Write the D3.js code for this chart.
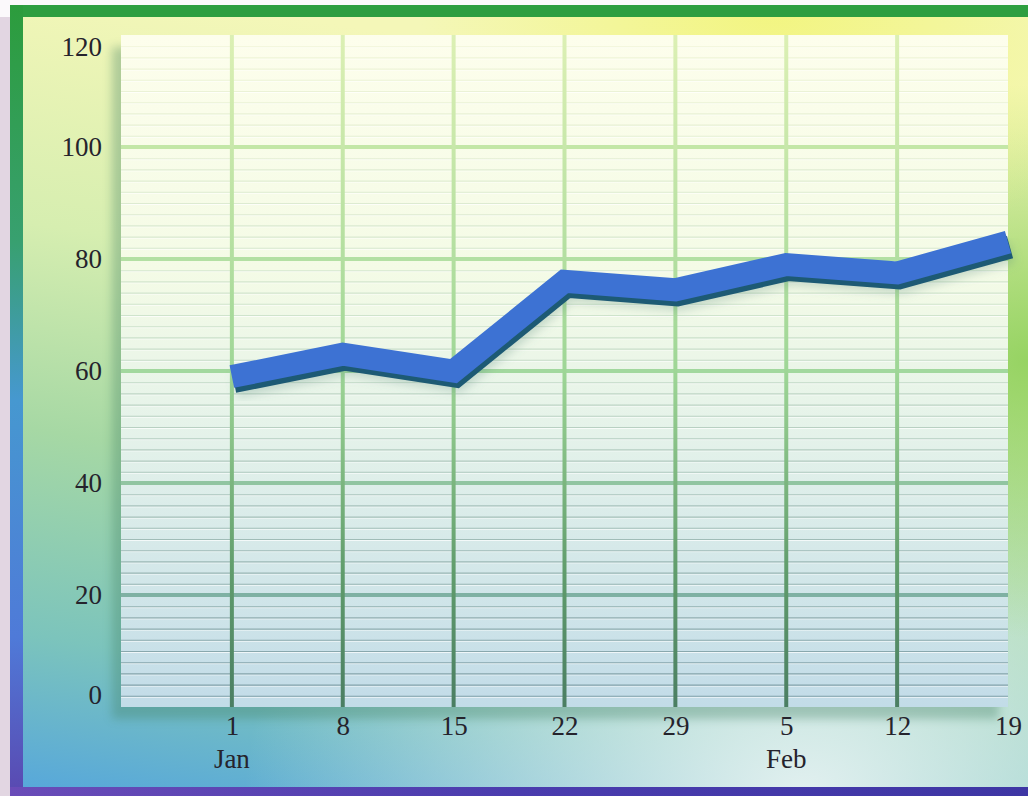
<!DOCTYPE html>
<html>
<head>
<meta charset="utf-8">
<script src="https://cdn.jsdelivr.net/npm/d3@7"></script>
<style>
    body { margin: 0; background: #ffffff; }
    svg { display: block; }
    .tick text { font-family: "Liberation Serif", "DejaVu Serif", serif; fill: #25232c; }
</style>
</head>
<body>
<div id="chart_div"></div>
<script>
// values
let dayLabels = ["1", "8", "15", "22", "29", "5", "12", "19"];
let monthLabels = ["Jan", "", "", "", "", "Feb", "", ""];
let weekValues = [59, 63, 60, 76, 74.5, 79, 77.5, 83];
let yTicks = [0, 20, 40, 60, 80, 100, 120];
let minorStep = 2;

let W = 1028, H = 796;
let plot = {left: 121, right: 1008, top: 35, bottom: 707};

let svg = d3.select("#chart_div")
    .append("svg")
    .attr("width", W)
    .attr("height", H);

let defs = svg.append("defs");

function linGrad(id, stops, x1, y1, x2, y2, units) {
    let g = defs.append("linearGradient")
        .attr("id", id)
        .attr("x1", x1).attr("y1", y1)
        .attr("x2", x2).attr("y2", y2);
    if (units) g.attr("gradientUnits", units);
    stops.forEach(s => g.append("stop")
        .attr("offset", s[0])
        .attr("stop-color", s[1])
        .attr("stop-opacity", s[2] === undefined ? 1 : s[2]));
}

function radGrad(id, cx, cy, r, stops) {
    let g = defs.append("radialGradient")
        .attr("id", id).attr("cx", cx).attr("cy", cy).attr("r", r);
    stops.forEach(s => g.append("stop")
        .attr("offset", s[0])
        .attr("stop-color", s[1])
        .attr("stop-opacity", s[2]));
}

// background of the card
linGrad("bg", [[0, "#f4f7b8"], [0.3, "#d6eeb0"], [0.55, "#a6d8a4"], [0.8, "#7cc4bc"], [1, "#55a6dc"]], "0.2", "0", "0", "1");
radGrad("bg_white", "0.78", "1", "0.55", [[0, "#e8f3f2", 0.95], [1, "#e8f3f2", 0]]);
radGrad("bg_green", "1", "0.45", "0.35", [[0, "#8fd05a", 0.9], [1, "#8fd05a", 0]]);
radGrad("bg_yellow", "0.75", "0", "0.35", [[0, "#f2f57a", 0.9], [1, "#f2f57a", 0]]);
linGrad("left_border", [[0, "#2c9c3c"], [0.3, "#38a070"], [0.5, "#4698d0"], [0.8, "#4f7ad8"], [1, "#5a48b0"]], "0", "0", "0", "1");
linGrad("bottom_border", [[0, "#6a4cb8"], [0.5, "#4a3cae"], [1, "#3e36a4"]], "0", "0", "1", "0");

// plot panel
linGrad("panel", [[0, "#fdfeec"], [0.35, "#f4fbe6"], [0.6, "#e4f2ea"], [1, "#c2dce8"]], "0", "0", "0", "1");
linGrad("vline", [[0, "#dcf0b4"], [0.5, "#9ed696"], [0.8, "#609c6c"], [1, "#4a7e62"]], 0, plot.top, 0, plot.bottom, "userSpaceOnUse");

let blur = defs.append("filter").attr("id", "blur").attr("x", "-10%").attr("y", "-10%").attr("width", "120%").attr("height", "120%");
blur.append("feGaussianBlur").attr("stdDeviation", 5);

// card
svg.append("rect").attr("x", 0).attr("y", 0).attr("width", W).attr("height", H).attr("fill", "#fbf9fb");
svg.append("rect").attr("x", 0).attr("y", 17).attr("width", 10).attr("height", H).attr("fill", "#e2d6e2");
svg.append("rect").attr("x", 10).attr("y", 5).attr("width", W - 10).attr("height", H - 5).attr("fill", "url(#bg)");
svg.append("rect").attr("x", 10).attr("y", 5).attr("width", W - 10).attr("height", H - 5).attr("fill", "url(#bg_white)");
svg.append("rect").attr("x", 10).attr("y", 5).attr("width", W - 10).attr("height", H - 5).attr("fill", "url(#bg_green)");
svg.append("rect").attr("x", 10).attr("y", 5).attr("width", W - 10).attr("height", H - 5).attr("fill", "url(#bg_yellow)");
svg.append("rect").attr("x", 10).attr("y", 5).attr("width", W - 10).attr("height", 12).attr("fill", "#2e9e40");
svg.append("rect").attr("x", 10).attr("y", 5).attr("width", 13).attr("height", H - 5).attr("fill", "url(#left_border)");
svg.append("rect").attr("x", 10).attr("y", 787).attr("width", W - 10).attr("height", 9).attr("fill", "url(#bottom_border)");

let x = d3.scaleLinear()
    .domain([-1, dayLabels.length - 1])
    .range([plot.left, plot.right]);

let y = d3.scaleLinear()
    .domain([0, 120])
    .range([plot.bottom, plot.top]);

let g = svg.append("g");

// panel shadow
g.append("rect")
    .attr("x", plot.left - 9)
    .attr("y", plot.top + 12)
    .attr("width", plot.right - plot.left)
    .attr("height", plot.bottom - plot.top)
    .attr("fill", "#3f7f62")
    .attr("opacity", 0.35)
    .attr("filter", "url(#blur)");

g.append("rect")
    .attr("x", plot.left)
    .attr("y", plot.top)
    .attr("width", plot.right - plot.left)
    .attr("height", plot.bottom - plot.top)
    .attr("fill", "url(#panel)");

// minor horizontal lines
let minorColor = d3.scaleLinear()
    .domain([120, 70, 0])
    .range(["#f2f6d8", "#cfe4cc", "#7d9ea8"]);
let minorVals = d3.range(minorStep, 120, minorStep).filter(v => v % 20 !== 0);

g.selectAll(".minor_hl")
    .data(minorVals)
    .join("line")
    .attr("class", "minor_hl")
    .attr("x1", plot.left)
    .attr("x2", plot.right)
    .attr("y1", d => y(d) + 1.5)
    .attr("y2", d => y(d) + 1.5)
    .attr("stroke", "#ffffff")
    .attr("stroke-opacity", 0.7)
    .attr("stroke-width", 1);

g.selectAll(".minor")
    .data(minorVals)
    .join("line")
    .attr("class", "minor")
    .attr("x1", plot.left)
    .attr("x2", plot.right)
    .attr("y1", d => y(d) + 0.5)
    .attr("y2", d => y(d) + 0.5)
    .attr("stroke", d => minorColor(d))
    .attr("stroke-width", 1.1);

// major gridlines
let majorColor = d3.scaleLinear()
    .domain([120, 60, 0])
    .range(["#d4efac", "#a2d89e", "#6e9ea6"]);

g.selectAll(".major_h")
    .data(yTicks.filter(v => v > 0 && v < 120))
    .join("line")
    .attr("class", "major_h")
    .attr("x1", plot.left)
    .attr("x2", plot.right)
    .attr("y1", d => y(d))
    .attr("y2", d => y(d))
    .attr("stroke", d => majorColor(d))
    .attr("stroke-width", 4);

g.selectAll(".major_v")
    .data(d3.range(dayLabels.length - 1))
    .join("line")
    .attr("class", "major_v")
    .attr("x1", d => x(d))
    .attr("x2", d => x(d))
    .attr("y1", plot.top)
    .attr("y2", plot.bottom)
    .attr("stroke", "url(#vline)")
    .attr("stroke-width", 4);

// line with its shadow
let line = d3.line()
    .x((d, i) => x(i))
    .y(d => y(d));

g.append("path")
    .datum(weekValues)
    .attr("d", line)
    .attr("transform", "translate(4,10)")
    .attr("fill", "none")
    .attr("stroke", "#5f8f80")
    .attr("stroke-opacity", 0.3)
    .attr("stroke-width", 22)
    .attr("filter", "url(#blur)");

g.append("path")
    .datum(weekValues)
    .attr("d", line)
    .attr("transform", "translate(2,5)")
    .attr("fill", "none")
    .attr("stroke", "#1d5a74")
    .attr("stroke-width", 23)
    .attr("stroke-linejoin", "miter");

g.append("path")
    .datum(weekValues)
    .attr("d", line)
    .attr("fill", "none")
    .attr("stroke", "#3d72d3")
    .attr("stroke-width", 23)
    .attr("stroke-linejoin", "miter");

// axes
let yAxis = svg.append("g")
    .attr("transform", "translate(" + plot.left + ",0)")
    .call(d3.axisLeft(y).tickValues(yTicks).tickSize(0).tickPadding(19));
yAxis.select(".domain").remove();
yAxis.selectAll("text")
    .style("font-size", "27px")
    .attr("dy", d => d === 0 ? "-0.14em" : (d === 120 ? "0.76em" : "0.32em"));

let xAxis = svg.append("g")
    .attr("transform", "translate(0," + plot.bottom + ")")
    .call(d3.axisBottom(x)
        .tickValues(d3.range(dayLabels.length))
        .tickFormat(i => dayLabels[i])
        .tickSize(0)
        .tickPadding(9));
xAxis.select(".domain").remove();
xAxis.selectAll("text").style("font-size", "27px");

svg.selectAll(".month_label")
    .data(monthLabels)
    .join("text")
    .attr("class", "month_label")
    .attr("x", (d, i) => x(i))
    .attr("y", 768)
    .attr("text-anchor", "middle")
    .style("font-family", "'Liberation Serif', 'DejaVu Serif', serif")
    .style("font-size", "27px")
    .style("fill", "#25232c")
    .text(d => d);
</script>
</body>
</html>
